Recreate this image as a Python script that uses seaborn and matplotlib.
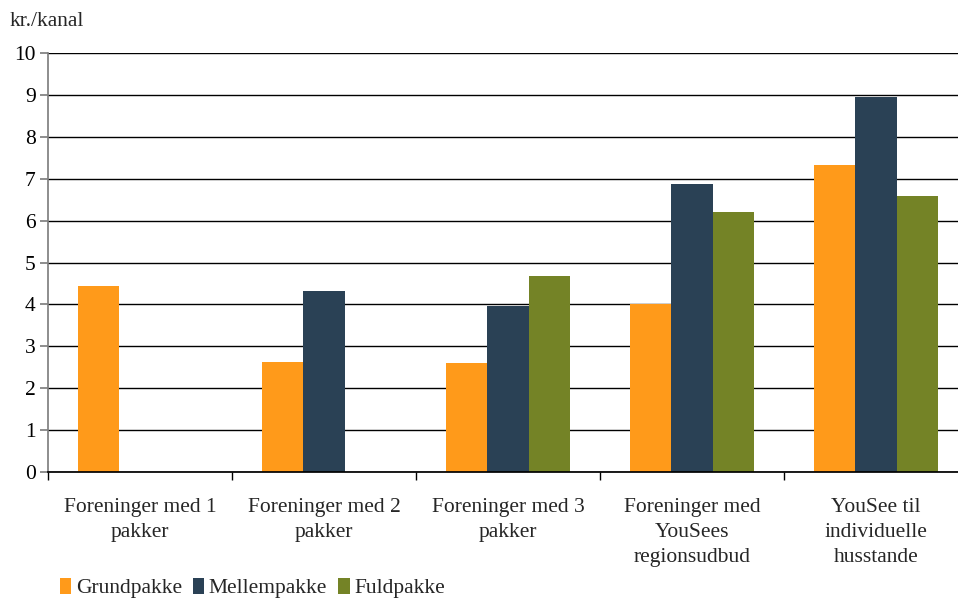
import numpy as np
import pandas as pd
import matplotlib
matplotlib.use("Agg")
import matplotlib.pyplot as plt
from matplotlib.patches import Patch
from matplotlib.ticker import FixedLocator
import seaborn as sns

# Data
categories = ["Foreninger med 1\npakker", "Foreninger med 2\npakker",
              "Foreninger med 3\npakker", "Foreninger med\nYouSees\nregionsudbud",
              "YouSee til\nindividuelle\nhusstande"]
grundpakke = [4.45, 2.63, 2.60, 4.01, 7.33]
mellempakke = [np.nan, 4.32, 3.96, 6.87, 8.95]
fuldpakke = [np.nan, np.nan, 4.68, 6.21, 6.59]
series = ["Grundpakke", "Mellempakke", "Fuldpakke"]
colors = ["#FF9A1A", "#2A4155", "#748326"]

df = pd.DataFrame({"kategori": categories * 3,
                   "pakke": np.repeat(series, len(categories)),
                   "pris": grundpakke + mellempakke + fuldpakke})

sns.set_theme(style="white")
plt.rcParams["font.family"] = ["Liberation Serif", "DejaVu Serif"]
fs = 15.5

fig = plt.figure(figsize=(9.58, 5.98), dpi=100)
ax = fig.add_axes([48 / 958, 126 / 598, 920 / 958, 419 / 598])

sns.barplot(data=df, x="kategori", y="pris", hue="pakke", order=categories,
            hue_order=series, palette=colors, width=0.67, saturation=1,
            linewidth=0, ax=ax, legend=False)

ax.set_xlim(-0.5, 4.5)
ax.set_ylim(0, 10)
ax.set_yticks(range(0, 11))
ax.yaxis.grid(True, color="black", linewidth=1)
ax.set_axisbelow(True)
ax.set_xlabel("")
ax.set_ylabel("")

for s in ["top", "right"]:
    ax.spines[s].set_visible(False)
ax.spines["left"].set_color("#808080")
ax.spines["bottom"].set_color("black")

ax.tick_params(axis="y", which="major", length=6, color="#808080",
               labelsize=fs, pad=3, left=True, direction="out")
ax.tick_params(axis="x", which="major", length=0, labelsize=fs, pad=18.5)
ax.xaxis.set_minor_locator(FixedLocator([-0.5, 0.5, 1.5, 2.5, 3.5]))
ax.tick_params(axis="x", which="minor", length=6, color="black",
               bottom=True, direction="out")
for lbl in ax.get_xticklabels():
    lbl.set_verticalalignment("top")
    lbl.set_linespacing(1.45)
for lbl in ax.get_yticklabels():
    lbl.set_color("black")

fig.text(10 / 958, 1 - 22 / 598, "kr./kanal", fontsize=fs,
         va="center", ha="left")

handles = [Patch(facecolor=c, edgecolor="none", label=s)
           for s, c in zip(series, colors)]
fig.legend(handles=handles, loc="lower left", bbox_to_anchor=(51 / 958, -0.015),
           ncol=3, frameon=False, fontsize=fs, handlelength=0.55,
           handleheight=0.75, handletextpad=0.2, columnspacing=0.5,
           borderaxespad=0)

fig.savefig("out.png", dpi=100)
